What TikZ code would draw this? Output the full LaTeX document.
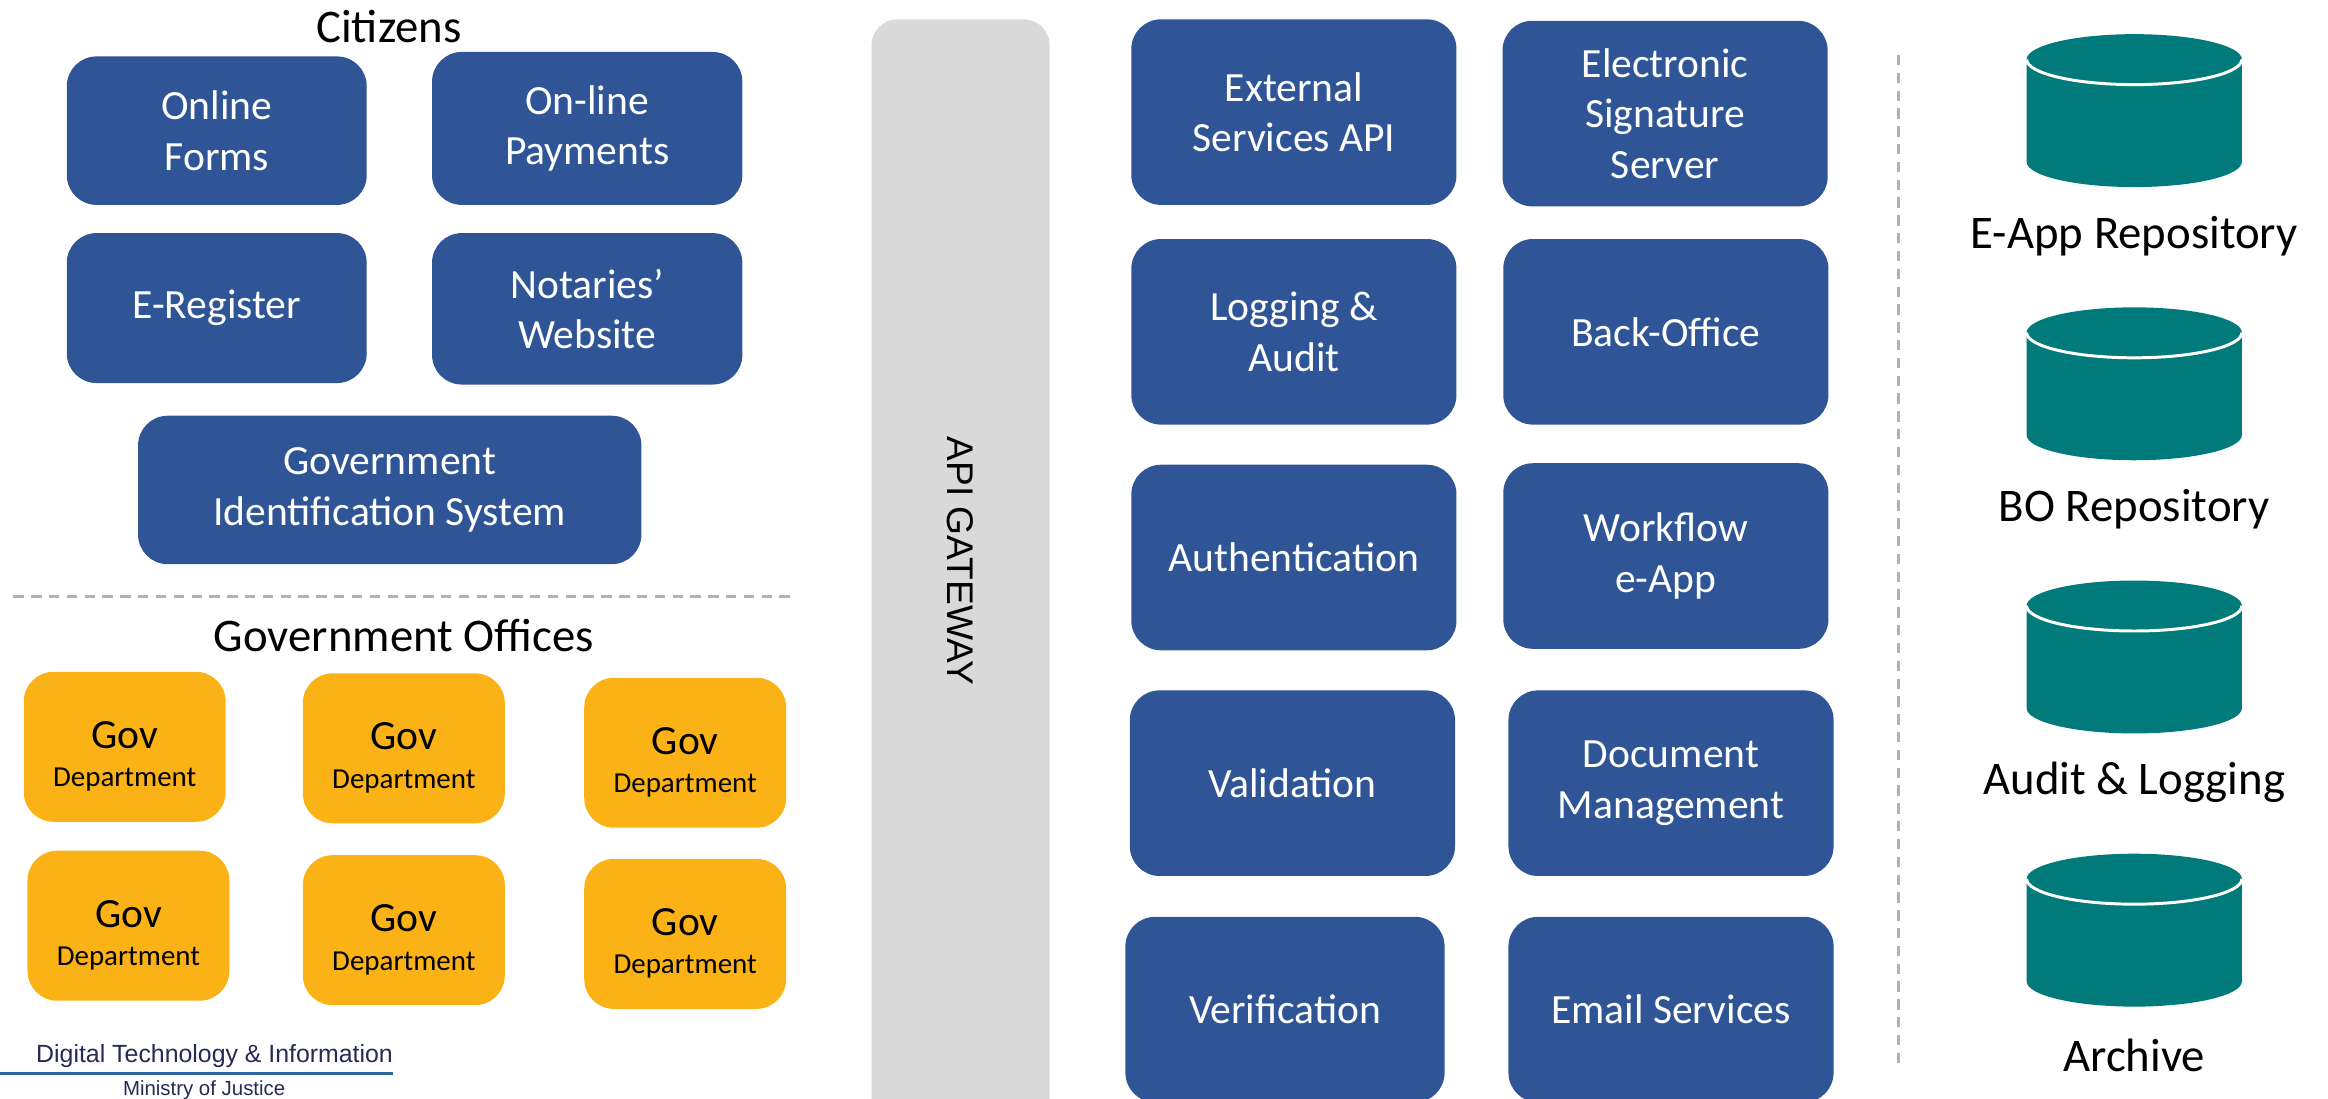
\documentclass[tikz,border=0pt]{standalone}
\usepackage{fontspec}
\setmainfont{Carlito}
\newfontfamily\arialfont{Liberation Sans}
\definecolor{boxblue}{RGB}{47,85,151}
\definecolor{govgold}{RGB}{251,178,23}
\definecolor{dbteal}{RGB}{0,122,122}
\definecolor{gwgray}{RGB}{217,217,217}
\definecolor{sepgray}{RGB}{178,178,178}
\definecolor{logonavy}{RGB}{38,42,84}
\definecolor{logoblue}{RGB}{46,100,160}
\begin{document}
\begin{tikzpicture}[x=0.4pt,y=-0.4pt,
		svc/.style={fill=boxblue, rounded corners=8pt, text=white, align=center, inner sep=0pt, font=\fontsize{11.2}{13.6}\selectfont},
		svcbig/.style={svc, minimum width=87.6pt, minimum height=50pt},
		govdep/.style={fill=govgold, rounded corners=8pt, align=center, inner sep=0pt, minimum width=54.4pt, minimum height=40.4pt, font=\fontsize{7.8}{10}\selectfont},
		title/.style={font=\fontsize{12.6}{15}\selectfont},
		sep/.style={draw=sepgray, line width=0.8pt, dash pattern=on 2.8pt off 2pt}]
		\useasboundingbox (0,0) rectangle (1568,740);
		\clip (0,0) rectangle (1568,740);
		%citizens
		\node[title] (cit) at (262,18) {Citizens};
		\node[svc, minimum width=80.8pt, minimum height=40pt] (forms) at (146,88) {Online\\Forms};
		\node[svc, minimum width=83.6pt, minimum height=41.2pt] (pay) at (395.5,86.5) {On-line\\Payments};
		\node[svc, minimum width=80.8pt, minimum height=40.4pt] (ereg) at (146,207.5) {E-Register};
		\node[svc, minimum width=83.6pt, minimum height=40.8pt] (notary) at (395.5,208) {Notaries’\\Website};
		\node[svc, minimum width=135.6pt, minimum height=40pt] (govid) at (262.5,330) {Government\\Identification System};
		\draw[sep] (9,402) -- (534,402);
		%government offices
		\node[title] (offices) at (272,428) {Government Offices};
		\foreach \x/\y [count=\i] in {84/503, 272/504, 461.5/507, 86.5/623.5, 272/626.5, 461.5/629}{
			\node[govdep] (gov\i) at (\x,\y) {\rule{0pt}{12.4pt}{\fontsize{11.2}{10}\selectfont Gov}\\[0.4pt]Department};
		}
		%logo
		\node[font=\arialfont\fontsize{6.7}{8}\selectfont, text=logonavy] (dti) at (144.5,711) {Digital Technology \& Information};
		\draw[logoblue, line width=0.6pt] (0,723) -- (265,723);
		\node[font=\arialfont\fontsize{5.5}{6}\selectfont, text=logonavy] (moj) at (137.5,734) {Ministry of Justice};
		%gateway
		\fill[gwgray, rounded corners=7pt] (587,13) rectangle (707,770);
		\node[rotate=-90, font=\arialfont\fontsize{10}{12}\selectfont] (gw) at (647,378) {API GATEWAY};
		%services
		\node[svcbig] (ext) at (871.5,75.5) {External\\Services API};
		\node[svcbig] (esig) at (1121.5,76.5) {Electronic\\Signature\\Server};
		\node[svcbig] (log) at (871.5,223.5) {Logging \&\\Audit};
		\node[svcbig] (bo) at (1122,223.5) {Back-Office};
		\node[svcbig] (auth) at (871.5,375.5) {Authentication};
		\node[svcbig] (wf) at (1122,374.5) {Workflow\\e-App};
		\node[svcbig] (val) at (870.5,527.5) {Validation};
		\node[svcbig] (doc) at (1125.5,527.5) {Document\\Management};
		\node[svcbig, minimum width=86pt] (ver) at (865.5,680) {Verification};
		\node[svcbig] (mail) at (1125.5,680) {Email Services};
		\draw[sep] (1279,37) -- (1279,718);
		%repositories
		\foreach \yt/\lbl [count=\i] in {23/E-App Repository, 207/BO Repository, 391/{Audit \& Logging}, 575/Archive}{
			\fill[dbteal] (1365,\yt+17) -- (1365,\yt+86) arc[start angle=180, end angle=0, x radius=72.5, y radius=17] -- (1510,\yt+17) -- cycle;
			\fill[dbteal] (1437.5,\yt+17) ellipse [x radius=72.5, y radius=17];
			\draw[white, line width=0.8pt] (1365,\yt+17) arc[start angle=180, end angle=0, x radius=72.5, y radius=17];
			\node[title] (db\i) at (1437.5,\yt+136) {\lbl};
		}
\end{tikzpicture}
\end{document}
